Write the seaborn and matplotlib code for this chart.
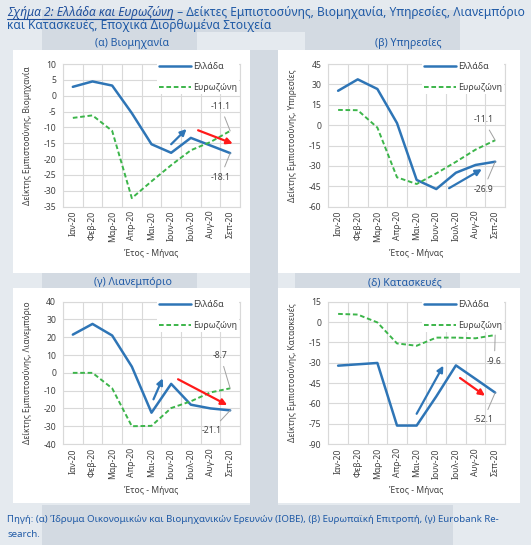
import numpy as np
import pandas as pd
import matplotlib
matplotlib.use("Agg")
import matplotlib.pyplot as plt
import seaborn as sns
from matplotlib.patches import Rectangle
from matplotlib.lines import Line2D

# ---------------- data ----------------
months = ["Ιαν-20", "Φεβ-20", "Μαρ-20", "Απρ-20", "Μαι-20", "Ιουν-20", "Ιουλ-20", "Αυγ-20", "Σεπ-20"]
series_names = ["Ελλάδα", "Ευρωζώνη"]

ind_gr = [2.8, 4.5, 3.2, -5.5, -15.3, -18.0, -13.3, -15.7, -18.1]
ind_ez = [-7.0, -6.2, -11.1, -32.3, -27.0, -21.9, -17.2, -14.6, -11.1]
srv_gr = [25.3, 33.7, 26.6, 1.5, -40.3, -47.0, -35.0, -29.3, -26.9]
srv_ez = [11.2, 11.0, -1.8, -38.4, -43.3, -35.5, -27.0, -18.0, -11.1]
ret_gr = [21.5, 27.5, 21.0, 3.5, -22.4, -6.2, -17.9, -20.0, -21.1]
ret_ez = [0.0, 0.0, -8.7, -30.0, -29.8, -19.8, -16.0, -11.0, -8.7]
con_gr = [-32.2, -31.2, -30.2, -76.4, -76.4, -54.9, -32.0, -42.0, -52.1]
con_ez = [6.0, 5.5, -0.3, -15.8, -17.5, -11.5, -11.5, -12.0, -9.6]

titles = ["(α) Βιομηχανία", "(β) Υπηρεσίες", "(γ) Λιανεμπόριο", "(δ) Κατασκευές"]
ylabels = ["Δείκτης Εμπιστοσύνης, Βιομηχανία", "Δείκτης Εμπιστοσύνης, Υπηρεσίες",
           "Δείκτης Εμπιστοσύνης, Λιανεμπόριο", "Δείκτης Εμπιστοσύνης, Κατασκευές"]
xlabel = "Έτος - Μήνας"
yticks = [np.arange(-35, 11, 5), np.arange(-60, 46, 15), np.arange(-40, 41, 10), np.arange(-90, 16, 15)]

# ---------------- style ----------------
sns.set_theme(style="white")
plt.rcParams["font.family"] = ["Noto Sans", "DejaVu Sans"]

W, H = 531, 545
fig = plt.figure(figsize=(W / 100, H / 100), dpi=100)
BG = "#e5eaef"
DARK = "#d3dae2"
fig.patch.set_facecolor(BG)

def rect(x0, y0, x1, y1, color, z=0):
    fig.add_artist(Rectangle((x0 / W, 1 - y1 / H), (x1 - x0) / W, (y1 - y0) / H,
                             transform=fig.transFigure, facecolor=color, edgecolor="none", zorder=z))

# background decoration
rect(42, 10, 460, 32, DARK, -5)
rect(42, 32, 197, 50, DARK, -5)
rect(305, 32, 460, 50, DARK, -5)
rect(250, 50, 278, 505, DARK, -5)
rect(42, 273, 197, 288, DARK, -5)
rect(295, 273, 460, 288, DARK, -5)
rect(42, 505, 453, 545, DARK, -5)
# white panels
for (x0, y0, x1, y1) in [(13, 50, 250, 273), (278, 50, 520, 273), (13, 288, 250, 503), (278, 288, 520, 503)]:
    rect(x0, y0, x1, y1, "white", -4)

BLUE = "#2e75b6"
GREEN = "#3cb54a"
TXT = "#1f5aa6"
GREY = "#595959"
GRID = "#d9d9d9"

ax_px = [(63, 64, 240, 206.7), (328.3, 64, 505, 206.7), (63, 301.7, 240, 444), (328.3, 301.7, 505, 444)]
data = [(ind_gr, ind_ez), (srv_gr, srv_ez), (ret_gr, ret_ez), (con_gr, con_ez)]

# annotation geometry (data coords)
lab_pos = [((7.51, -3.4), (7.51, -25.7)), ((7.40, 3.9), (7.40, -47.2)),
           ((7.51, 9.5), (7.04, -32.5)), ((7.96, -29.0), (7.40, -72.2))]
arrows = [[((5.0, -15.3), (5.78, -10.5), BLUE), ((6.37, -10.9), (8.13, -15.1), "#ff1a1a")],
          [((5.65, -46.4), (7.32, -32.4), BLUE)],
          [((4.1, -14.9), (4.57, -3.1), BLUE), ((5.35, -3.6), (7.85, -18.1), "#ff1a1a")],
          [((4.0, -67.7), (5.36, -32.2), BLUE), ((6.21, -41.3), (7.48, -54.4), "#ff1a1a")]]
title_px = [(132, 43), (408, 43), (133, 283), (405, 283)]

idx = np.arange(len(months))
for k in range(4):
    l, t, r, b = ax_px[k]
    ax = fig.add_axes([l / W, 1 - b / H, (r - l) / W, (b - t) / H])
    ax.set_facecolor("none")
    gr, ez = data[k]
    df = pd.DataFrame({"pos": idx, "month": months, series_names[0]: gr, series_names[1]: ez})
    sns.lineplot(data=df, x="pos", y=series_names[0], ax=ax, color=BLUE, lw=1.8,
                 label=series_names[0], zorder=3)
    sns.lineplot(data=df, x="pos", y=series_names[1], ax=ax, color=GREEN, lw=1.4,
                 label=series_names[1], zorder=3, linestyle=(0, (2.4, 1.4)))
    yt = yticks[k]
    ax.set_ylim(yt[0], yt[-1])
    ax.set_yticks(yt)
    ax.set_yticklabels([str(v) for v in yt])
    ax.set_xlim(-0.5, len(months) - 0.5)
    ax.set_xticks(np.arange(len(months) + 1) - 0.5)
    ax.set_xticklabels([])
    ax.set_xticks(idx, minor=True)
    ax.set_xticklabels(months, minor=True, rotation=90)
    ax.tick_params(axis="x", which="major", length=3, color=GRID, width=0.8)
    ax.tick_params(axis="x", which="minor", length=0, labelsize=6.2, labelcolor="#404040", pad=3)
    ax.tick_params(axis="y", which="major", length=3, color=GRID, width=0.8, labelsize=6.2,
                   labelcolor="#404040", pad=2)
    ax.grid(True, which="major", color=GRID, lw=0.8)
    for s in ax.spines.values():
        s.set_color(GRID)
        s.set_linewidth(0.8)
    ax.set_ylabel(ylabels[k], fontsize=6, color="#404040")
    ax.yaxis.set_label_coords(-0.175, 0.5)
    ax.set_xlabel(xlabel, fontsize=6.2, color="#404040")
    ax.xaxis.set_label_coords(0.5, -0.295)
    leg = ax.legend(loc="upper right", bbox_to_anchor=(1.0, 1.03), fontsize=6.4, handlelength=3.6,
                    labelspacing=1.35, borderaxespad=0.1, borderpad=0.2, handletextpad=0.3,
                    frameon=True, facecolor="white", edgecolor="none", framealpha=1)
    for txt in leg.get_texts():
        txt.set_color("#404040")
    leg.set_zorder(10)

    # last-value annotations
    n = len(months) - 1
    (p_ez, p_gr) = lab_pos[k]
    for val, pos in [(ez[-1], p_ez), (gr[-1], p_gr)]:
        ax.annotate(f"{val:.1f}", xy=(n, val), xytext=pos, fontsize=6.2, color="#404040",
                    ha="center", va="center", zorder=5,
                    arrowprops=dict(arrowstyle="-", color="#a0a0a0", lw=0.7, shrinkA=2, shrinkB=0))
    for (s, e, c) in arrows[k]:
        ax.annotate("", xy=e, xytext=s, zorder=6,
                    arrowprops=dict(arrowstyle="-|>", color=c, lw=1.6, mutation_scale=9,
                                    shrinkA=0, shrinkB=0))
    fig.text(title_px[k][0] / W, 1 - title_px[k][1] / H, titles[k], fontsize=7.6, color=TXT,
             ha="center", va="center")

# ---------------- headline ----------------
FS = 8.6
y1 = 1 - 12.5 / H
t1 = fig.text(7 / W, y1, "Σχήμα 2: Ελλάδα και Ευρωζώνη", fontsize=FS, fontweight="bold",
              fontstyle="italic", color="#1f4f9c", ha="left", va="center")
fig.canvas.draw()
bb = t1.get_window_extent()
fig.add_artist(Line2D([bb.x0 / W, bb.x1 / W], [(bb.y0 + 0.3) / H] * 2, transform=fig.transFigure,
                      color="#1f4f9c", lw=0.8))
fig.text(bb.x1 / W, y1, " – Δείκτες Εμπιστοσύνης, Βιομηχανία, Υπηρεσίες, Λιανεμπόριο",
         fontsize=FS, color=TXT, ha="left", va="center")
fig.text(7 / W, 1 - 25 / H, "και Κατασκευές, Εποχικά Διορθωμένα Στοιχεία",
         fontsize=FS, color=TXT, ha="left", va="center")

# ---------------- source ----------------
fig.text(7 / W, 1 - 520 / H,
         "Πηγή: (α) Ίδρυμα Οικονομικών και Βιομηχανικών Ερευνών (ΙΟΒΕ), (β) Ευρωπαϊκή Επιτροπή, (γ) Eurobank Re-",
         fontsize=6.95, color=TXT, ha="left", va="center")
fig.text(7 / W, 1 - 534.5 / H, "search.", fontsize=6.95, color=TXT, ha="left", va="center")

fig.savefig("out.png", dpi=100, facecolor=fig.get_facecolor())
